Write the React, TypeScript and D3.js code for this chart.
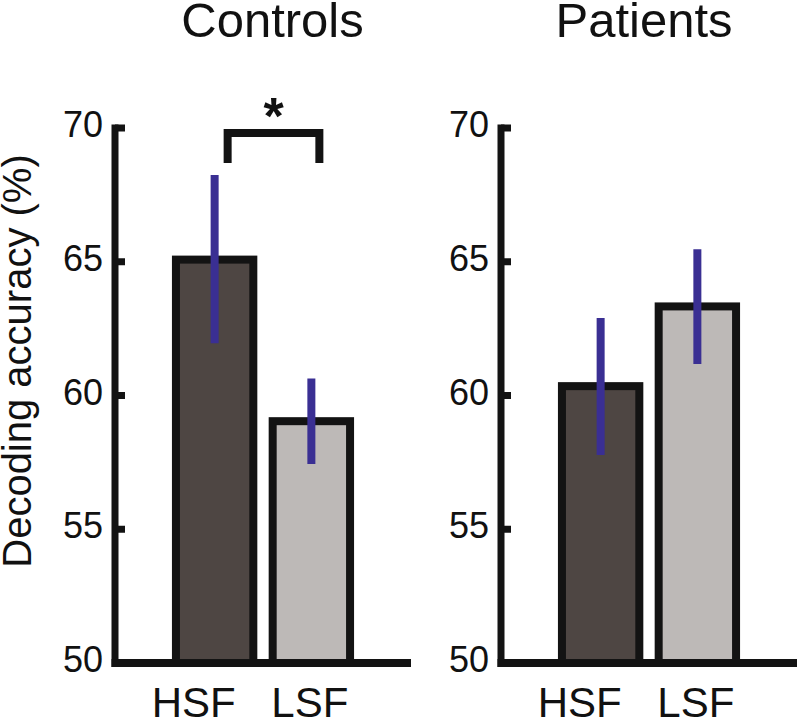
import React from "react";
import * as d3 from "d3";

// ---- data ----
const categories = ["HSF", "LSF"];
const panelTitles = ["Controls", "Patients"];
const controlsMeans = [65.08, 59.04];
const controlsLower = [61.95, 57.44];
const controlsUpper = [68.24, 60.64];
const patientsMeans = [60.35, 63.33];
const patientsLower = [57.78, 61.18];
const patientsUpper = [62.9, 65.47];
const yTicks = [50, 55, 60, 65, 70];
const yDomain = [50, 70];
const bracketLevels = [69.81, 68.69]; // top, leg bottom (Controls HSF vs LSF)
const bracketLabel = "*";
const yAxisLabel = "Decoding accuracy (%)";

// ---- style ----
const W = 798;
const H = 720;
const FONT = "'Liberation Sans', Arial, Helvetica, sans-serif";
const barFills = ["#4e4643", "#bdb9b7"];
const strokeDark = "#131313";
const errColor = "#3a2f93";

const panelAxisX = [115, 501];
const panelWidth = 296;
const titleOffsets = [157.5, 143];
const labelOffsets = [-21, -1.5];

export default function App() {
  const y = d3.scaleLinear().domain(yDomain).range([663, 128]);
  const panels = [
    { means: controlsMeans, lower: controlsLower, upper: controlsUpper },
    { means: patientsMeans, lower: patientsLower, upper: patientsUpper },
  ];

  return (
    <svg
      width={W}
      height={H}
      viewBox={`0 0 ${W} ${H}`}
      style={{ position: "absolute", left: 0, top: 0, display: "block", background: "#fff" }}
      fontFamily={FONT}
    >
      <text
        transform={`translate(31, 361) rotate(-90)`}
        textAnchor="middle"
        fontSize={40}
        fill="#111"
      >
        {yAxisLabel}
      </text>
      {panels.map((p, pi) => {
        const ax = panelAxisX[pi];
        const x = d3
          .scaleBand<string>()
          .domain(categories)
          .range([ax, ax + panelWidth])
          .paddingInner(0.2)
          .paddingOuter(0.63);
        const bw = x.bandwidth();
        const cx = (c: string) => (x(c) as number) + bw / 2;
        return (
          <g key={pi}>
            <text
              x={ax + titleOffsets[pi]}
              y={37}
              textAnchor="middle"
              fontSize={49}
              fill="#111"
            >
              {panelTitles[pi]}
            </text>
            {/* bars */}
            {categories.map((c, i) => (
              <rect
                key={c}
                x={x(c)}
                y={y(p.means[i])}
                width={bw}
                height={y(yDomain[0]) - y(p.means[i])}
                fill={barFills[i]}
                stroke={strokeDark}
                strokeWidth={8}
              />
            ))}
            {/* axes */}
            <line
              x1={ax}
              x2={ax}
              y1={y(yDomain[1]) - 3.5}
              y2={y(yDomain[0]) + 4}
              stroke={strokeDark}
              strokeWidth={7}
            />
            {yTicks.map((t) => (
              <g key={t}>
                <line
                  x1={ax}
                  x2={ax + 10}
                  y1={y(t)}
                  y2={y(t)}
                  stroke={strokeDark}
                  strokeWidth={7}
                />
                <text
                  x={ax - 12}
                  y={y(t) + 9}
                  textAnchor="end"
                  fontSize={36}
                  fill="#111"
                >
                  {t}
                </text>
              </g>
            ))}
            <line
              x1={ax - 3.5}
              x2={ax + panelWidth}
              y1={y(yDomain[0])}
              y2={y(yDomain[0])}
              stroke={strokeDark}
              strokeWidth={8}
            />
            {/* error bars */}
            {categories.map((c, i) => (
              <line
                key={c}
                x1={cx(c)}
                x2={cx(c)}
                y1={y(p.lower[i])}
                y2={y(p.upper[i])}
                stroke={errColor}
                strokeWidth={8}
              />
            ))}
            {/* x labels */}
            {categories.map((c, i) => (
              <text
                key={c}
                x={cx(c) + labelOffsets[i]}
                y={717}
                textAnchor="middle"
                fontSize={42}
                fill="#111"
              >
                {c}
              </text>
            ))}
            {pi === 0 && (
              <g>
                <path
                  d={`M${cx(categories[0]) + 13},${y(bracketLevels[1])} L${cx(categories[0]) + 13},${y(
                    bracketLevels[0]
                  )} L${cx(categories[1]) + 8},${y(bracketLevels[0])} L${cx(categories[1]) + 8},${y(
                    bracketLevels[1]
                  )}`}
                  fill="none"
                  stroke={strokeDark}
                  strokeWidth={8}
                  strokeLinejoin="miter"
                />
                <text
                  x={(cx(categories[0]) + 13 + cx(categories[1]) + 8) / 2}
                  y={134}
                  textAnchor="middle"
                  fontSize={52}
                  fontWeight="bold"
                  fill="#111"
                >
                  {bracketLabel}
                </text>
              </g>
            )}
          </g>
        );
      })}
    </svg>
  );
}
